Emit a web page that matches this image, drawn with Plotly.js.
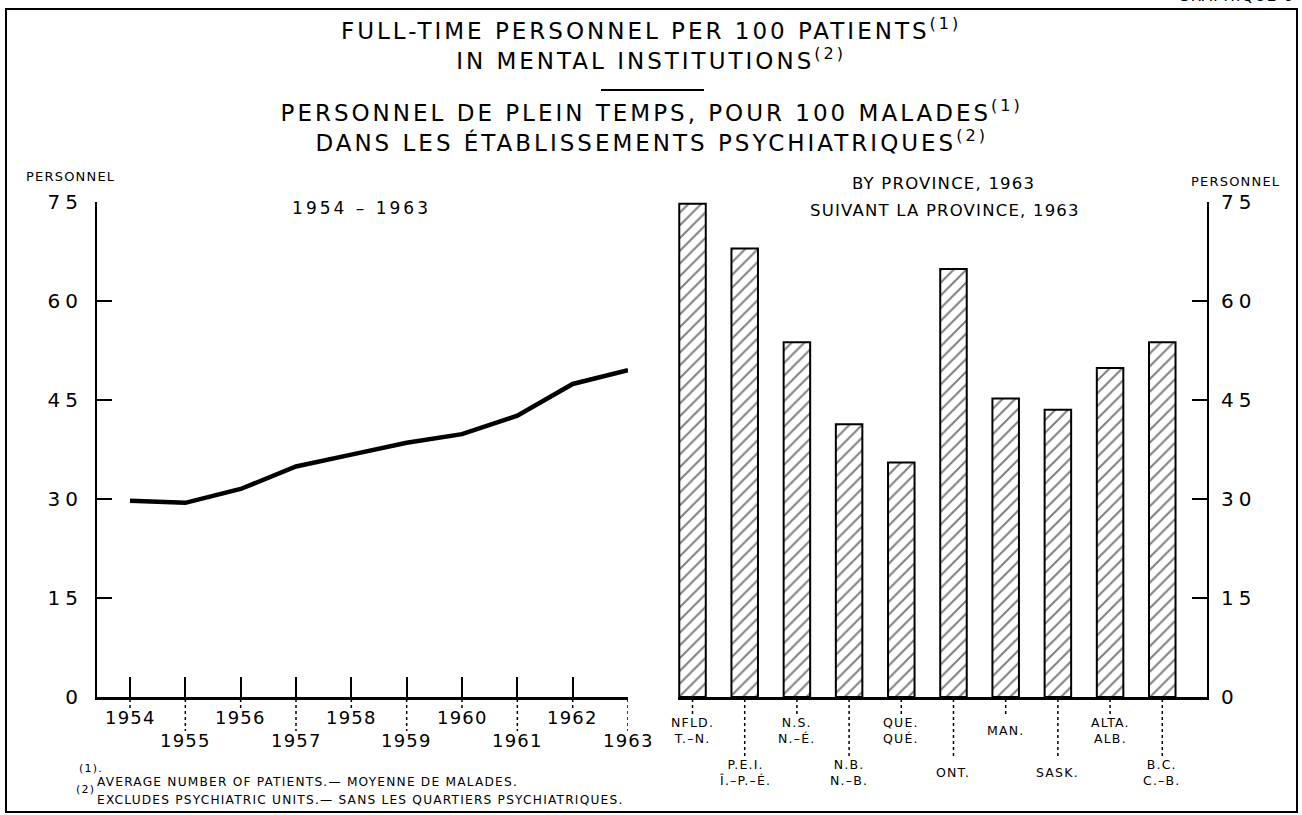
<!DOCTYPE html>
<html>
<head>
<meta charset="utf-8">
<script src="https://cdn.plot.ly/plotly-3.0.1.min.js"></script>
<style>
  html, body { margin: 0; padding: 0; background: #fff; }
  #chart { width: 1302px; height: 815px; }
  svg text { letter-spacing: 1.2px; }
  .annotation[data-index="0"] text, .annotation[data-index="1"] text,
  .annotation[data-index="2"] text { letter-spacing: 3px; }
  .ytick text, .y2tick text { letter-spacing: 5px; }
</style>
</head>
<body>
<div id="chart"></div>
<script>
// ---- data ----
const years = [1954, 1955, 1956, 1957, 1958, 1959, 1960, 1961, 1962, 1963];
const personnelPer100 = [29.7, 29.4, 31.5, 34.9, 36.7, 38.5, 39.8, 42.6, 47.4, 49.5];

const provincesEn = ['NFLD.', 'P.E.I.', 'N.S.', 'N.B.', 'QUE.', 'ONT.', 'MAN.', 'SASK.', 'ALTA.', 'B.C.'];
const provincesFr = ['T.–N.', 'Î.–P.–É.', 'N.–É.', 'N.–B.', 'QUÉ.', '', '', '', 'ALB.', 'C.–B.'];
const personnelByProvince1963 = [74.7, 67.9, 53.7, 41.3, 35.5, 64.8, 45.2, 43.5, 49.8, 53.7];

const yTickVals = [0, 15, 30, 45, 60, 75];

// ---- layout helpers (pixel -> paper) ----
const W = 1302, H = 815;
const px = x => x / W;
const py = y => 1 - y / H;
const FONT = 'DejaVu Sans, sans-serif';

const yDomain = [py(697), py(201.7)];
const x1Range = [1954 - 33 / 55.33, 1963];
const x2Range = [-0.278, 9.857];

const provIdx = provincesEn.map((_, i) => i);

const traces = [
  {
    type: 'scatter', mode: 'lines',
    x: years, y: personnelPer100,
    xaxis: 'x', yaxis: 'y',
    line: { color: '#000', width: 4.5, shape: 'linear' },
    cliponaxis: false, hoverinfo: 'x+y', showlegend: false
  },
  {
    type: 'bar',
    x: provIdx, y: personnelByProvince1963,
    xaxis: 'x2', yaxis: 'y2',
    width: 0.508,
    marker: {
      color: '#fff',
      line: { color: '#000', width: 2 },
      pattern: { shape: '/', fgcolor: '#000', bgcolor: '#fff', size: 9, solidity: 0.22, fillmode: 'overlay' }
    },
    hovertext: provincesEn, hoverinfo: 'text+y', showlegend: false
  }
];

const shapes = [];
const annotations = [];

const txt = (x, y, text, size, xanchor) => annotations.push({ xref: 'paper', yref: 'paper', x: px(x), y: py(y), text, showarrow: false, xanchor: xanchor || 'center', yanchor: 'middle', align: 'center', font: { family: FONT, size, color: '#000' } });

// titles first (indices 0-1), then the period label (2)
txt(651, 44, 'FULL-TIME PERSONNEL PER 100 PATIENTS<sup>(1)</sup><br>IN MENTAL INSTITUTIONS<sup>(2)</sup>', 23);
txt(651, 126, 'PERSONNEL DE PLEIN TEMPS, POUR 100 MALADES<sup>(1)</sup><br>DANS LES ÉTABLISSEMENTS PSYCHIATRIQUES<sup>(2)</sup>', 23);
txt(361, 208, '1954 – 1963', 17);
txt(1296, -4, 'GRAPHIQUE 6', 15, 'right');
txt(70, 177, 'PERSONNEL', 13);
txt(1235, 181, 'PERSONNEL', 13);
txt(943, 183, 'BY PROVINCE, 1963', 16.5);
txt(945, 210, 'SUIVANT LA PROVINCE, 1963', 16.5);
txt(77, 768, '(1).', 11, 'left');
txt(74, 789, '(2)', 11, 'left');
txt(95, 782, 'AVERAGE NUMBER OF PATIENTS.— MOYENNE DE MALADES.', 12.2, 'left');
txt(95, 800, 'EXCLUDES PSYCHIATRIC UNITS.— SANS LES QUARTIERS PSYCHIATRIQUES.', 12.2, 'left');

// frame
shapes.push({ type: 'rect', xref: 'paper', yref: 'paper', x0: px(6), x1: px(1297), y0: py(812), y1: py(9), line: { color: '#000', width: 2 } });
// title separator
shapes.push({ type: 'line', xref: 'paper', yref: 'paper', x0: px(601), x1: px(704), y0: py(90), y1: py(90), line: { color: '#000', width: 2 } });

// left chart: dotted leaders and staggered year labels
years.forEach((yr, i) => {
  const odd = i % 2 === 1;
  shapes.push({ type: 'line', xref: 'x', yref: 'paper', x0: yr, x1: yr, y0: py(699), y1: py(odd ? 731 : 708), line: { color: '#000', width: 1.5, dash: 'dot' } });
  annotations.push({ xref: 'x', yref: 'paper', x: yr, y: py(odd ? 740 : 717), text: String(yr), showarrow: false, xanchor: 'center', yanchor: 'middle', font: { family: FONT, size: 18, color: '#000' } });
});

// right chart: dotted leaders and province labels
provIdx.forEach(i => {
  const lower = i % 2 === 1;
  const label = provincesFr[i] ? provincesEn[i] + '<br>' + provincesFr[i] : provincesEn[i];
  shapes.push({ type: 'line', xref: 'x2', yref: 'paper', x0: i, x1: i, y0: py(699), y1: py(lower ? 756 : 717), line: { color: '#000', width: 1.5, dash: 'dot' } });
  annotations.push({ xref: 'x2', yref: 'paper', x: i, y: py(lower ? 772 : 730), text: label, showarrow: false, xanchor: 'center', yanchor: 'middle', align: 'center', font: { family: FONT, size: 12.5, color: '#000' } });
});

const yAxisCommon = {
  range: [0, 75], domain: yDomain,
  tickvals: yTickVals, ticktext: yTickVals.map(String),
  ticks: 'inside', ticklen: 15, tickwidth: 2, tickcolor: '#000',
  showline: true, linewidth: 2, linecolor: '#000',
  showgrid: false, zeroline: false,
  tickfont: { family: FONT, size: 20, color: '#000' },
  ticklabelstandoff: 8, fixedrange: true
};

const layout = {
  width: W, height: H,
  margin: { l: 0, r: 0, t: 0, b: 0, pad: 0 },
  paper_bgcolor: '#fff', plot_bgcolor: 'rgba(0,0,0,0)',
  showlegend: false,
  xaxis: {
    domain: [px(97), px(628)], range: x1Range, anchor: 'y',
    tickvals: years, ticks: 'inside', ticklen: 20, tickwidth: 2, tickcolor: '#000',
    showticklabels: false, showline: true, linewidth: 3, linecolor: '#000',
    showgrid: false, zeroline: false, fixedrange: true
  },
  yaxis: Object.assign({}, yAxisCommon, { anchor: 'x', side: 'left' }),
  xaxis2: {
    domain: [px(678), px(1207)], range: x2Range, anchor: 'y2',
    ticks: '', showticklabels: false, showline: true, linewidth: 3, linecolor: '#000',
    showgrid: false, zeroline: false, fixedrange: true
  },
  yaxis2: Object.assign({}, yAxisCommon, { anchor: 'x2', side: 'right' }),
  shapes, annotations,
  bargap: 0
};

Plotly.newPlot('chart', traces, layout, { displayModeBar: false, staticPlot: true });
</script>
</body>
</html>
